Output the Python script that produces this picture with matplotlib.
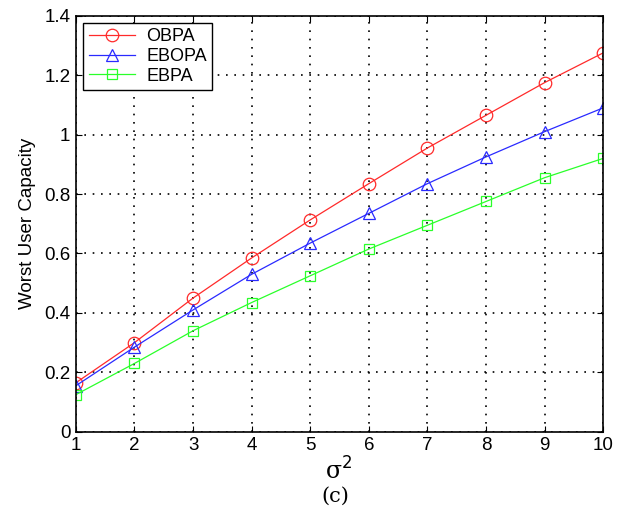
import matplotlib.pyplot as plt
import numpy as np

plt.rcParams['font.family'] = ['Liberation Sans', 'DejaVu Sans']

# Data
sigma2 = np.arange(1, 11)
obpa = [0.165, 0.300, 0.450, 0.585, 0.713, 0.835, 0.955, 1.065, 1.175, 1.275]
ebopa = [0.155, 0.285, 0.410, 0.530, 0.635, 0.735, 0.835, 0.925, 1.010, 1.090]
ebpa = [0.125, 0.230, 0.340, 0.435, 0.525, 0.615, 0.695, 0.775, 0.855, 0.920]

fig = plt.figure(figsize=(6.27, 5.08), dpi=100)
ax = fig.add_axes([0.121, 0.150, 0.841, 0.819])

ax.plot(sigma2, obpa, color='#ff2a2a', lw=0.9, marker='o', ms=9, mfc='none', mew=0.9, label='OBPA')
ax.plot(sigma2, ebopa, color='#2a2aff', lw=0.9, marker='^', ms=9, mfc='none', mew=0.9, label='EBOPA')
ax.plot(sigma2, ebpa, color='#2aff2a', lw=0.9, marker='s', ms=7, mfc='none', mew=0.9, label='EBPA')

ax.set_xlim(1, 10)
ax.set_ylim(0, 1.4)
ax.set_xticks(sigma2)
ax.set_yticks(np.arange(0, 1.41, 0.2))
ax.set_yticklabels(['0', '0.2', '0.4', '0.6', '0.8', '1', '1.2', '1.4'])
ax.tick_params(direction='in', labelsize=13.5, top=True, right=True, length=4, pad=4)
ax.grid(True, color='black', linestyle=(0, (1, 4)), lw=1.2)
for s in ax.spines.values():
    s.set_linewidth(1.2)

ax.set_ylabel('Worst User Capacity', fontsize=13.5, labelpad=6)
fig.text(0.54, 0.072, 'σ$^2$', fontsize=17, family='DejaVu Serif', ha='center', va='center')
fig.text(0.535, 0.024, '(c)', fontsize=15, family='DejaVu Serif', ha='center', va='center')

leg = ax.legend(loc='upper left', fontsize=13, fancybox=False, edgecolor='black',
                framealpha=1, borderaxespad=0.4, handlelength=2.6, labelspacing=0.15,
                borderpad=0.3, handletextpad=0.6)
leg.get_frame().set_linewidth(1.0)

plt.savefig('out.png', dpi=100)
